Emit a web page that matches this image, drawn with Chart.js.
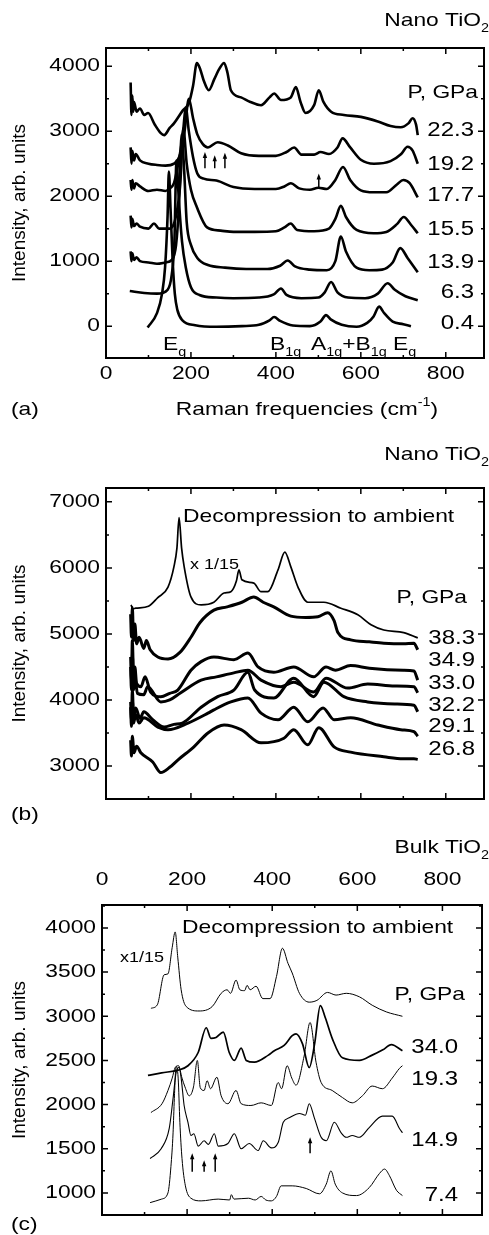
<!DOCTYPE html>
<html>
<head>
<meta charset="utf-8">
<script src="https://cdn.jsdelivr.net/npm/chart.js@4.4.1/dist/chart.umd.min.js"></script>
<style>
  html, body { margin: 0; padding: 0; background: #fff; }
  body { width: 489px; height: 1235px; position: relative; overflow: hidden; }
  canvas { position: absolute; left: 0; }
</style>
</head>
<body>
<canvas id="panelA" width="489" height="420" style="top:0px"></canvas>
<canvas id="panelB" width="489" height="410" style="top:420px"></canvas>
<canvas id="panelC" width="489" height="405" style="top:830px"></canvas>
<script>
// ---- tick labels ----
const freqTicks = [0, 200, 400, 600, 800];
const intensityTicksA = [0, 1000, 2000, 3000, 4000];
const intensityTicksB = [3000, 4000, 5000, 6000, 7000];
const intensityTicksC = [1000, 1500, 2000, 2500, 3000, 3500, 4000];

// ---- (a) nano TiO2, compression: [Raman shift cm-1, intensity] ----
const pressuresA = ["22.3", "19.2", "17.7", "15.5", "13.9", "6.3", "0.4"];
const nano22_3 = [[58,3750],[60,3250],[62,3550],[64,3300],[66,3450],[72,3300],[80,3350],[90,3250],[99,3280],[115,3100],[129,2970],[137,2940],[150,3050],[160,3120],[181,3320],[195,3430],[205,3700],[214,4050],[222,3950],[230,3780],[242,3630],[255,3800],[266,3950],[278,4050],[286,3900],[294,3630],[318,3520],[340,3450],[365,3400],[385,3520],[396,3580],[412,3480],[435,3520],[447,3680],[458,3450],[470,3280],[490,3400],[501,3630],[512,3450],[530,3300],[560,3250],[600,3220],[640,3150],[670,3080],[694,3060],[712,3120],[722,3200],[730,3100],[734,2940]];
const nano19_2 = [[58,2750],[60,2500],[62,2700],[66,2550],[70,2650],[80,2550],[100,2500],[120,2480],[140,2470],[160,2500],[175,2650],[185,3000],[195,3500],[205,3200],[215,2950],[228,2800],[240,2750],[263,2830],[287,2780],[318,2660],[360,2620],[400,2620],[425,2680],[443,2750],[460,2640],[490,2640],[505,2680],[525,2650],[545,2750],[557,2890],[575,2750],[600,2560],[631,2500],[670,2540],[695,2650],[710,2760],[722,2700],[734,2500]];
const nano17_7 = [[58,2250],[60,2100],[62,2250],[66,2120],[70,2200],[80,2150],[100,2080],[120,2100],[140,2080],[150,2120],[160,2200],[170,2500],[180,2900],[188,3350],[195,3000],[205,2600],[215,2350],[230,2270],[260,2240],[300,2140],[350,2110],[400,2110],[420,2150],[435,2200],[455,2120],[480,2100],[500,2130],[520,2110],[540,2250],[558,2450],[575,2250],[600,2090],[630,2060],[660,2060],[685,2180],[700,2250],[715,2200],[734,1980]];
const nano15_5 = [[58,1700],[60,1520],[62,1650],[66,1540],[72,1580],[80,1530],[100,1500],[113,1580],[125,1500],[150,1500],[165,1700],[175,2200],[182,3050],[190,2500],[200,2100],[214,1830],[238,1520],[270,1470],[300,1450],[350,1450],[400,1460],[420,1520],[435,1580],[450,1480],[490,1460],[525,1500],[540,1650],[553,1850],[565,1680],[590,1480],[630,1430],[660,1450],[685,1570],[701,1680],[718,1560],[734,1430]];
const nano13_9 = [[58,1150],[60,1000],[62,1120],[66,1020],[72,1060],[80,1000],[100,980],[120,960],[140,980],[155,1020],[165,1250],[172,1900],[178,2950],[184,2400],[190,1600],[200,1250],[215,1050],[240,940],[280,900],[330,880],[380,880],[410,930],[428,1010],[445,920],[480,870],[520,860],[540,1000],[553,1380],[565,1150],[590,900],[620,860],[650,870],[675,980],[693,1200],[710,1050],[734,830]];
const nano6_3 = [[56,540],[90,510],[120,500],[145,560],[155,800],[161,1300],[166,2550],[171,2000],[179,1300],[188,900],[200,600],[220,480],[260,440],[300,430],[360,440],[395,490],[412,580],[425,480],[460,430],[500,440],[515,520],[530,680],[545,520],[570,440],[610,430],[640,500],[663,660],[680,560],[705,460],[734,400]];
const nano0_4 = [[98,-20],[120,200],[132,500],[139,900],[145,1700],[148,2380],[152,1800],[157,1000],[162,500],[168,250],[180,90],[210,15],[260,-10],[320,0],[360,20],[385,90],[396,140],[410,80],[440,10],[480,0],[505,70],[518,170],[530,100],[555,20],[590,-10],[615,50],[630,150],[643,300],[655,200],[675,70],[700,30],[718,0]];
const arrowsA = [[233,2430,2680],[256,2430,2630],[280,2430,2670],[501,2120,2350]];

// ---- (b) nano TiO2, high pressure and decompression ----
const pressuresB = ["38.3", "34.9", "33.0", "32.2", "29.1", "26.8"];
const nanoDecomp = [[59,5440],[63,5380],[70,5390],[100,5420],[122,5550],[146,5710],[160,6020],[167,6300],[172,6760],[178,6300],[184,6020],[200,5560],[224,5440],[254,5480],[278,5620],[294,5640],[307,5800],[313,5970],[320,5820],[348,5770],[365,5640],[381,5640],[405,5970],[421,6240],[435,6020],[452,5710],[475,5480],[513,5480],[553,5390],[593,5290],[624,5140],[654,5060],[701,5020],[734,4940]];
const nano38_3 = [[58,5300],[60,4950],[62,5400],[65,4900],[68,5150],[72,4850],[78,4950],[89,4780],[95,4900],[104,4760],[122,4650],[146,4620],[174,4720],[200,4950],[221,5170],[254,5360],[285,5410],[320,5480],[348,5560],[370,5480],[395,5410],[435,5270],[470,5250],[499,5260],[522,5320],[537,5200],[546,5020],[576,4910],[620,4880],[654,4860],[700,4850],[725,4860],[734,4760]];
const nano34_9 = [[58,4650],[60,4300],[62,4900],[65,4350],[68,4500],[72,4250],[82,4200],[92,4350],[105,4120],[129,4050],[150,4100],[169,4150],[200,4450],[224,4580],[254,4650],[301,4610],[334,4710],[358,4500],[395,4420],[442,4500],[489,4350],[518,4500],[540,4450],[576,4520],[620,4480],[700,4450],[725,4440],[734,4300]];
const nano33_0 = [[58,4500],[60,4150],[62,4700],[65,4150],[68,4350],[74,4100],[89,4080],[98,4200],[129,3970],[150,4000],[176,4110],[224,4300],[260,4350],[301,4410],[334,4450],[365,4300],[412,4200],[442,4270],[489,4120],[518,4330],[569,4180],[616,4240],[680,4210],[725,4200],[734,4110]];
const nano32_2 = [[58,3970],[60,3700],[62,4150],[65,3750],[70,3880],[80,3720],[89,3820],[110,3700],[137,3590],[160,3630],[180,3650],[224,3890],[263,4050],[301,4150],[334,4420],[350,4150],[395,4030],[442,4330],[489,4050],[513,4270],[560,4050],[616,3970],[680,3940],[725,3920],[734,3820]];
const nano29_1 = [[58,3890],[60,3600],[62,4000],[65,3650],[70,3780],[78,3650],[89,3730],[122,3590],[146,3550],[193,3650],[240,3800],[254,3850],[294,3970],[334,4030],[365,3800],[405,3700],[442,3890],[475,3670],[511,3880],[537,3700],[576,3730],[640,3620],[694,3550],[725,3520],[734,3450]];
const nano26_8 = [[58,3390],[60,3150],[62,3450],[66,3200],[72,3300],[82,3200],[110,3060],[129,2900],[150,2980],[169,3090],[207,3290],[240,3500],[278,3620],[318,3550],[365,3350],[419,3420],[442,3550],[475,3320],[501,3580],[537,3290],[576,3210],[654,3140],[700,3110],[725,3110],[734,3100]];

// ---- (c) bulk TiO2 ----
const pressuresC = ["34.0", "19.3", "14.9", "7.4"];
const bulkDecomp = [[115,3090],[130,3130],[146,3470],[155,3480],[165,3780],[172,3955],[178,3670],[186,3300],[198,3110],[228,3060],[259,3110],[280,3260],[294,3300],[302,3260],[315,3410],[324,3300],[335,3290],[341,3350],[348,3300],[362,3340],[378,3200],[395,3200],[410,3450],[424,3770],[437,3600],[447,3490],[464,3260],[487,3160],[505,3180],[530,3270],[550,3240],[574,3260],[605,3220],[635,3125],[668,3050],[706,3000]];
const bulk34_0 = [[108,2330],[140,2360],[179,2390],[202,2440],[226,2590],[245,2870],[256,2750],[268,2760],[285,2820],[299,2590],[311,2500],[327,2640],[339,2500],[358,2480],[391,2560],[405,2610],[428,2670],[447,2780],[456,2800],[471,2690],[487,2420],[500,2700],[513,3120],[525,2980],[541,2750],[565,2530],[605,2500],[635,2560],[660,2620],[680,2680],[706,2610]];
const bulk19_3 = [[115,1910],[141,2010],[155,2160],[165,2300],[172,2420],[180,2440],[188,2300],[195,2200],[205,2100],[215,2200],[224,2500],[231,2190],[240,2160],[247,2270],[255,2180],[270,2310],[280,2100],[296,2010],[315,2160],[327,2010],[350,1990],[374,2020],[398,1990],[414,2250],[422,2180],[435,2440],[446,2300],[456,2220],[475,2550],[489,2930],[503,2480],[515,2250],[541,2160],[565,2080],[588,2020],[612,2100],[635,2210],[659,2180],[682,2300],[699,2410],[706,2440]];
const bulk14_9 = [[113,1390],[139,1500],[158,1730],[167,2070],[174,2360],[181,2420],[186,2300],[193,1990],[202,1800],[209,1650],[216,1670],[226,1530],[240,1590],[250,1550],[264,1670],[273,1530],[296,1560],[311,1670],[327,1500],[346,1560],[367,1480],[379,1590],[398,1510],[414,1570],[426,1800],[440,1850],[464,1900],[478,1880],[487,2010],[499,1850],[515,1630],[527,1590],[546,1800],[562,1680],[574,1630],[588,1650],[605,1630],[628,1740],[659,1870],[682,1870],[699,1730],[706,1680]];
const bulk7_4 = [[113,890],[140,930],[155,1000],[162,1300],[167,1680],[170,2070],[174,2430],[179,2300],[183,1800],[188,1390],[196,1080],[209,940],[233,910],[273,930],[300,920],[304,980],[310,930],[344,940],[360,920],[374,960],[385,920],[398,910],[410,960],[421,1080],[447,1080],[480,1050],[511,990],[527,1100],[538,1250],[548,1100],[565,1000],[598,970],[628,1060],[652,1220],[664,1270],[675,1200],[692,1030],[706,970]];
const arrowsC = [[212,1240,1450],[240,1240,1370],[266,1240,1450],[489,1450,1630]];

// ---- drawing helpers ----
const FONT = '"Liberation Sans", Arial, Helvetica, sans-serif';
const STRETCH = 1.2;

function richText(ctx, parts, x, y, size, align) {
  const items = parts.map((p) => {
    const s = typeof p === "string" ? { t: p } : p;
    const fs = s.sub || s.sup ? Math.round(size * 0.62) : size;
    ctx.font = fs + "px " + FONT;
    return {
      t: s.t,
      fs,
      dy: s.sub ? size * 0.38 : s.sup ? -size * 0.4 : 0,
      w: ctx.measureText(s.t).width * STRETCH,
    };
  });
  const total = items.reduce((sum, it) => sum + it.w, 0);
  let cx = align === "right" ? x - total : align === "center" ? x - total / 2 : x;
  items.forEach((it) => {
    ctx.save();
    ctx.font = it.fs + "px " + FONT;
    ctx.fillStyle = "#000";
    ctx.textAlign = "left";
    ctx.textBaseline = "middle";
    ctx.translate(cx, y + it.dy);
    ctx.scale(STRETCH, 1);
    ctx.fillText(it.t, 0, 0);
    ctx.restore();
    cx += it.w;
  });
}

const panelPlugin = {
  id: "panel",
  afterDraw(chart, args, opts) {
    const { ctx, chartArea: a } = chart;
    const x = chart.scales.x;
    const y = chart.scales.y;
    ctx.save();
    ctx.strokeStyle = "#000";
    ctx.fillStyle = "#000";

    // inward ticks on all four sides
    ctx.lineWidth = 1.5;
    ctx.beginPath();
    for (let v = 0; v <= x.max; v += opts.xStep / 2) {
      const px = x.getPixelForValue(v);
      const len = v % opts.xStep === 0 ? 6 : 3;
      ctx.moveTo(px, a.bottom); ctx.lineTo(px, a.bottom - len);
      ctx.moveTo(px, a.top); ctx.lineTo(px, a.top + len);
    }
    const y0 = Math.ceil(y.min / (opts.yStep / 2)) * (opts.yStep / 2);
    for (let v = y0; v <= y.max; v += opts.yStep / 2) {
      const py = y.getPixelForValue(v);
      const len = v % opts.yStep === 0 ? 6 : 3;
      ctx.moveTo(a.left, py); ctx.lineTo(a.left + len, py);
      ctx.moveTo(a.right, py); ctx.lineTo(a.right - len, py);
    }
    ctx.stroke();

    ctx.lineWidth = 2;
    ctx.strokeRect(a.left, a.top, a.right - a.left, a.bottom - a.top);

    // tick labels
    if (opts.xLabels) {
      freqTicks.forEach((v) => {
        richText(ctx, [String(v)], x.getPixelForValue(v), opts.xLabelY, 19, "center");
      });
    }
    opts.yTicks.forEach((v) => {
      richText(ctx, [String(v)], a.left - 6, y.getPixelForValue(v), 19, "right");
    });

    // arrows
    ctx.lineWidth = 1.5;
    (opts.arrows || []).forEach(([f, lo, hi]) => {
      const px = x.getPixelForValue(f);
      const pLo = y.getPixelForValue(lo);
      const pHi = y.getPixelForValue(hi);
      ctx.beginPath();
      ctx.moveTo(px, pLo); ctx.lineTo(px, pHi + 3);
      ctx.stroke();
      ctx.beginPath();
      ctx.moveTo(px, pHi); ctx.lineTo(px - 2.2, pHi + 6); ctx.lineTo(px + 2.2, pHi + 6);
      ctx.closePath();
      ctx.fill();
    });

    // y title
    ctx.save();
    ctx.translate(20, (a.top + a.bottom) / 2);
    ctx.rotate(-Math.PI / 2);
    ctx.font = "19px " + FONT;
    ctx.textAlign = "center";
    ctx.textBaseline = "middle";
    ctx.fillText("Intensity, arb. units", 0, 0);
    ctx.restore();

    // free texts
    opts.texts.forEach((t) => richText(ctx, t.parts, t.x, t.y, t.size || 19, t.align || "left"));
    ctx.restore();
  },
};

function series(pairs, width) {
  return {
    data: pairs.map(([f, v]) => ({ x: f, y: v })),
    borderColor: "#000",
    borderWidth: width,
    pointRadius: 0,
    fill: false,
    cubicInterpolationMode: "monotone",
  };
}

function makePanel(id, cfg) {
  return new Chart(document.getElementById(id).getContext("2d"), {
    type: "line",
    data: { datasets: cfg.datasets },
    options: {
      responsive: false,
      animation: false,
      layout: { padding: cfg.padding },
      scales: {
        x: { type: "linear", display: false, min: 0, max: cfg.xMax },
        y: { type: "linear", display: false, min: cfg.yMin, max: cfg.yMax },
      },
      plugins: {
        legend: { display: false },
        tooltip: { enabled: false },
        panel: cfg.panel,
      },
    },
    plugins: [panelPlugin],
  });
}

function pressureTexts(labels, ys, right, size) {
  return labels.map((p, i) => ({ parts: [p], x: right, y: ys[i], size, align: "right" }));
}

// ---- (a) ----
makePanel("panelA", {
  xMax: 890, yMin: -490, yMax: 4280,
  padding: { left: 106, right: 5, top: 48, bottom: 62 },
  datasets: [nano22_3, nano19_2, nano17_7, nano15_5, nano13_9, nano6_3, nano0_4].map((s) => series(s, 2.6)),
  panel: {
    xStep: 200, yStep: 1000, yTicks: intensityTicksA,
    xLabels: true, xLabelY: 374, arrows: arrowsA,
    texts: [
      { parts: ["Nano TiO", { t: "2", sub: true }], x: 489, y: 21, align: "right" },
      { parts: ["P, GPa"], x: 478, y: 93, align: "right" },
      ...pressureTexts(pressuresA, [130, 164, 195, 229, 262, 292, 323], 474, 20),
      { parts: ["E", { t: "g", sub: true }], x: 163, y: 345 },
      { parts: ["B", { t: "1g", sub: true }], x: 270, y: 345 },
      { parts: ["A", { t: "1g", sub: true }, "+B", { t: "1g", sub: true }, " E", { t: "g", sub: true }], x: 311, y: 345 },
      { parts: ["Raman frequencies (cm", { t: "-1", sup: true }, ")"], x: 307, y: 410, align: "center" },
      { parts: ["(a)"], x: 11, y: 410 },
    ],
  },
});

// ---- (b) ----
makePanel("panelB", {
  xMax: 890, yMin: 2500, yMax: 7210,
  padding: { left: 106, right: 5, top: 68, bottom: 31 },
  datasets: [series(nanoDecomp, 1.7)].concat(
    [nano38_3, nano34_9, nano33_0, nano32_2, nano29_1, nano26_8].map((s) => series(s, 3))
  ),
  panel: {
    xStep: 200, yStep: 1000, yTicks: intensityTicksB, xLabels: false,
    texts: [
      { parts: ["Nano TiO", { t: "2", sub: true }], x: 489, y: 35, align: "right" },
      { parts: ["Decompression to ambient"], x: 183, y: 97 },
      { parts: ["x 1/15"], x: 190, y: 145, size: 15 },
      { parts: ["P, GPa"], x: 467, y: 178, align: "right" },
      ...pressureTexts(pressuresB, [218, 240, 263, 285, 306, 329], 475, 20),
      { parts: ["(b)"], x: 11, y: 395 },
    ],
  },
});

// ---- (c) ----
makePanel("panelC", {
  xMax: 893, yMin: 750, yMax: 4260,
  padding: { left: 102, right: 7, top: 75, bottom: 20 },
  datasets: [
    series(bulkDecomp, 1),
    series(bulk34_0, 1.7),
    series(bulk19_3, 1),
    series(bulk14_9, 1.1),
    series(bulk7_4, 1),
  ],
  panel: {
    xStep: 200, yStep: 500, yTicks: intensityTicksC,
    xLabels: true, xLabelY: 50, arrows: arrowsC,
    texts: [
      { parts: ["Bulk TiO", { t: "2", sub: true }], x: 489, y: 18, align: "right" },
      { parts: ["Decompression to ambient"], x: 182, y: 98 },
      { parts: ["x1/15"], x: 120, y: 128, size: 15 },
      { parts: ["P, GPa"], x: 465, y: 165, align: "right" },
      ...pressureTexts(pressuresC, [217, 249, 310, 365], 458, 20),
      { parts: ["(c)"], x: 11, y: 395 },
    ],
  },
});
</script>
</body>
</html>
